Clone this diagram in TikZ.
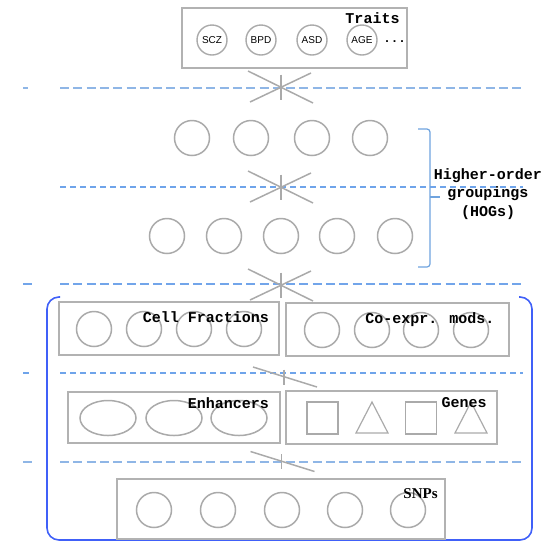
\documentclass[tikz,border=0pt]{standalone}
\usepackage{fontspec}
\usetikzlibrary{shapes.geometric}
\newfontfamily\monolbl{Liberation Mono}
\newfontfamily\sanslbl{Liberation Sans}
\newfontfamily\seriflbl{Liberation Serif}
\definecolor{gline}{HTML}{AAAAAA}
\definecolor{gbox}{HTML}{B2B2B2}
\definecolor{dashblue}{HTML}{8FB6E6}
\definecolor{dashthin}{HTML}{6FA4EA}
\definecolor{dashdeep}{HTML}{72A5EA}
\definecolor{bracketblue}{HTML}{6FA3DE}
\definecolor{frameblue}{HTML}{4060F8}
\begin{document}
\begin{tikzpicture}[x=1pt,y=-1pt,
  unit/.style={circle, draw=gline, line width=1.5pt, minimum size=35pt, inner sep=0pt},
  trait/.style={circle, draw=gline, line width=1.4pt, minimum size=30pt, inner sep=0pt,
                font=\sanslbl\fontsize{10}{10}\selectfont},
  blob/.style={ellipse, draw=gline, line width=1.5pt, minimum width=56pt, minimum height=35pt, inner sep=0pt},
  sq/.style={rectangle, draw=gline, line width=1.2pt, minimum width=31pt, minimum height=32pt, inner sep=0pt},
  groupbox/.style={rectangle, draw=gbox, line width=1.1pt, inner sep=0pt},
  tag/.style={font=\monolbl\bfseries\fontsize{15}{15}\selectfont, anchor=base, inner sep=0pt},
  thickdash/.style={draw=dashblue, line width=2pt, dash pattern=on 9pt off 4.3pt},
  thindash/.style={draw=dashthin, line width=1.1pt, dash pattern=on 6pt off 4pt},
  spoke/.style={draw=gline, line width=1.5pt},
  fullstar/.pic={
    \draw[spoke] (-33,-16) -- (32,16);
    \draw[spoke] (30,-14) -- (-31,15);
    \draw[spoke] (0,-12.5) -- (0,12.5);
  },
  halfstar/.pic={
    \draw[spoke] (-32,-10) -- (32,10);
    \draw[spoke] (-1,-7.5) -- (-1,7.5);
  }]
\useasboundingbox (0,0) rectangle (554,542);

% ---------- traits ----------
\node[groupbox, minimum width=225pt, minimum height=60pt] (traitbox) at (294.5,38) {};
\node[trait] (scz) at (212,40) {SCZ};
\node[trait] (bpd) at (261,40) {BPD};
\node[trait] (asd) at (312,40) {ASD};
\node[trait] (age) at (362,40) {AGE};
\node[font=\monolbl\bfseries\fontsize{12.5}{12.5}\selectfont, anchor=base, inner sep=0pt] (more) at (394.5,42) {...};
\node[tag] (traitstag) at (372.5,23) {Traits};

% ---------- layer separators ----------
\draw[thickdash] (23,88) -- (28,88);
\draw[thickdash] (60,88) -- (521,88);
\draw[thindash] (60,187) -- (523,187);
\draw[thickdash, draw=dashdeep] (23,284) -- (33,284);
\draw[thickdash, draw=dashdeep] (60,284) -- (521,284);
\draw[thindash] (23,373) -- (32,373);
\draw[thindash] (60,373) -- (523,373);
\draw[thickdash] (23,462) -- (32,462);
\draw[thickdash] (60,462) -- (521,462);

\pic at (281,87) {fullstar};
\pic at (281,187) {fullstar};
\pic at (281,285) {fullstar};
\pic at (285,377) {halfstar};
\pic at (282.5,461.5) {halfstar};

% ---------- higher-order groupings ----------
\foreach \x [count=\i] in {192,251,312,370}
  \node[unit] (hogA\i) at (\x,138) {};
\foreach \x [count=\i] in {167,224,281,337,395}
  \node[unit] (hogB\i) at (\x,236) {};

\draw[bracketblue, line width=1.2pt, rounded corners=3pt]
  (418,129) -- (430,129) -- (430,267) -- (418,267);
\draw[bracketblue, line width=1.2pt] (430,197) -- (440,197);
\node[tag] (hog1) at (488,179) {Higher-order};
\node[tag] (hog2) at (488,197.5) {groupings};
\node[tag] (hog3) at (488,216) {(HOGs)};

% ---------- molecular layers frame ----------
\draw[frameblue, line width=1.6pt, rounded corners=12pt]
  (60,297) -- (47,297) -- (47,540) -- (532,540) -- (532,297) -- (519,297);

% cell fractions
\node[groupbox, minimum width=220pt, minimum height=53pt] (cellbox) at (169,328.5) {};
\foreach \x [count=\i] in {94,144,194,244}
  \node[unit] (cell\i) at (\x,329) {};
\node[tag] (celltag) at (206,322) {Cell Fractions};

% co-expression modules
\node[groupbox, minimum width=223pt, minimum height=53pt] (modbox) at (397.5,329.5) {};
\foreach \x [count=\i] in {322,372,421,471}
  \node[unit] (mod\i) at (\x,330) {};
\node[tag] (modtag) at (430,323) {Co-expr. mods.};

% enhancers
\node[groupbox, minimum width=212pt, minimum height=51pt] (enhbox) at (174,417.5) {};
\foreach \x [count=\i] in {108,174,239}
  \node[blob] (enh\i) at (\x,418) {};
\node[tag] (enhtag) at (228.5,408) {Enhancers};

% genes
\node[groupbox, minimum width=211pt, minimum height=53pt] (genebox) at (391.5,417.5) {};
\node[sq] (gsq1) at (322.5,418) {};
\node[sq] (gsq2) at (421,418) {};
\draw[gline, line width=1.2pt, line join=miter] (372,402) -- (388,433) -- (356,433) -- cycle;
\draw[gline, line width=1.2pt, line join=miter] (471,402) -- (487,433) -- (455,433) -- cycle;
\node[tag] (genetag) at (464,407) {Genes};

% SNPs
\node[groupbox, minimum width=328pt, minimum height=60pt] (snpbox) at (281,509) {};
\foreach \x [count=\i] in {154,218,282,345,408}
  \node[unit] (snp\i) at (\x,510) {};
\node[font=\seriflbl\bfseries\fontsize{15}{15}\selectfont, anchor=base, inner sep=0pt] (snptag) at (420.5,498) {SNPs};
\end{tikzpicture}
\end{document}
